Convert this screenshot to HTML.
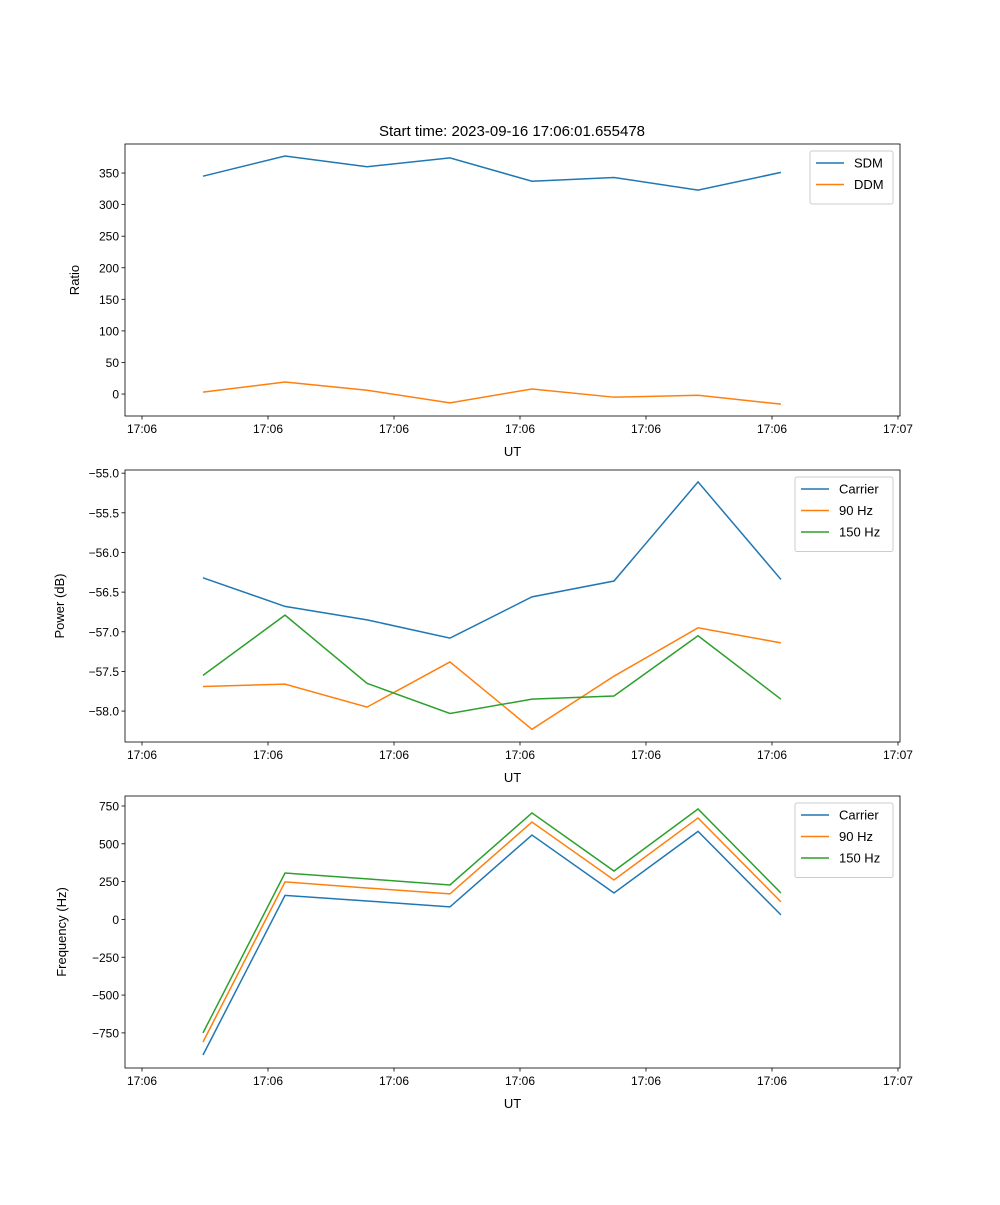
<!DOCTYPE html>
<html><head><meta charset="utf-8"><style>
body{margin:0;background:#fff}
svg{font-family:"Liberation Sans","DejaVu Sans",sans-serif}
</style></head><body>
<svg id="fig" width="1000" height="1200" xmlns="http://www.w3.org/2000/svg">
<rect width="1000" height="1200" fill="#fff"/>
<text x="512" y="136" font-size="15" text-anchor="middle">Start time: 2023-09-16 17:06:01.655478</text>
</svg>
<script>
const times = [4.84, 11.35, 17.86, 24.44, 30.95, 37.46, 44.13, 50.71];
const xTicks = [0, 10, 20, 30, 40, 50, 60];
const xTickLabels = ["17:06","17:06","17:06","17:06","17:06","17:06","17:07"];
const sdm = [345, 377, 360, 374, 337, 343, 323, 351];
const ddm = [3, 19, 6, -14, 8, -5, -2, -16];
const ratioTicks = [0, 50, 100, 150, 200, 250, 300, 350];
const pwrCarrier = [-56.32, -56.68, -56.85, -57.08, -56.56, -56.36, -55.11, -56.34];
const pwr90 = [-57.69, -57.66, -57.95, -57.38, -58.23, -57.56, -56.95, -57.14];
const pwr150 = [-57.55, -56.79, -57.65, -58.03, -57.85, -57.81, -57.05, -57.85];
const pwrTicks = [-58.0, -57.5, -57.0, -56.5, -56.0, -55.5, -55.0];
const frqCarrier = [-896, 159, 122, 83, 558, 175, 582, 30];
const frq90 = [-810, 248, 208, 169, 644, 261, 671, 116];
const frq150 = [-750, 307, 268, 228, 704, 320, 730, 175];
const frqTicks = [-750, -500, -250, 0, 250, 500, 750];

const NS = "http://www.w3.org/2000/svg";
const svg = document.getElementById('fig');
function mk(tag, attrs, parent) {
  const e = document.createElementNS(NS, tag);
  for (const k in attrs) e.setAttribute(k, attrs[k]);
  (parent || svg).appendChild(e);
  return e;
}
const L = 125, R = 900, X0 = -1.35, X1 = 60.16;
const xs = t => L + (t - X0) / (X1 - X0) * (R - L);

function panel(name, top, bot, y0, y1, ticks, fmt, ylabel, lx, series, legend) {
  const g = mk('g', {});
  
  
  const ys = v => bot - (v - y0) / (y1 - y0) * (bot - top);
  series.forEach(s => {
    const p = mk('polyline', {points: s.vals.map((v, i) => xs(times[i]) + ',' + ys(v)).join(' '), fill: 'none', stroke: s.color, 'stroke-width': 1.5}, g);
    
    
  });
  const fr = mk('rect', {x: L, y: top, width: R - L, height: bot - top, fill: 'none', stroke: '#000', 'stroke-width': 0.8}, g);
  
  
  xTicks.forEach((t, i) => {
    const x = xs(t);
    mk('line', {x1: x, x2: x, y1: bot, y2: bot + 3.5, stroke: '#000', 'stroke-width': 0.8}, g);
    const tx = mk('text', {x: x, y: bot + 17, 'font-size': 12, 'text-anchor': 'middle'}, g);
    tx.textContent = xTickLabels[i];
    
    
  });
  const xl = mk('text', {x: (L + R) / 2, y: bot + 40, 'font-size': 13, 'text-anchor': 'middle'}, g);
  xl.textContent = 'UT';
  
  
  ticks.forEach(v => {
    const y = ys(v);
    mk('line', {x1: L - 3.5, x2: L, y1: y, y2: y, stroke: '#000', 'stroke-width': 0.8}, g);
    const tx = mk('text', {x: L - 6, y: y + 4.5, 'font-size': 12, 'text-anchor': 'end'}, g);
    tx.textContent = fmt(v);
    
    
  });
  const yl = mk('text', {x: lx, y: (top + bot) / 2, 'font-size': 13, 'text-anchor': 'middle', transform: 'rotate(-90 ' + lx + ' ' + (top + bot) / 2 + ')'}, g);
  yl.textContent = ylabel;
  
  
  const lg = mk('g', {}, g);
  
  
  mk('rect', {x: legend.x, y: top + 7, width: R - 7 - legend.x, height: 10 + series.length * 21.5, fill: '#fff', stroke: '#ccc', rx: 2}, lg);
  series.forEach((s, i) => {
    const y = top + 7 + 12 + i * 21.5;
    mk('line', {x1: legend.x + 6, x2: legend.x + 34, y1: y, y2: y, stroke: s.color, 'stroke-width': 1.5}, lg);
    const tx = mk('text', {x: legend.x + 44, y: y + 4.5, 'font-size': 13}, lg);
    tx.textContent = s.label;
    
    
  });
}
const B = '#1f77b4', O = '#ff7f0e', G = '#2ca02c';
panel('ratio-panel', 144, 416, -34.8, 396, ratioTicks, v => String(v), 'Ratio', 79,
  [{key: 'sdm', label: 'SDM', vals: sdm, color: B}, {key: 'ddm', label: 'DDM', vals: ddm, color: O}], {x: 810});
panel('power-panel', 470, 742, -58.39, -54.96, pwrTicks, v => v.toFixed(1).replace('-', '\u2212'), 'Power (dB)', 64,
  [{key: 'carrier', label: 'Carrier', vals: pwrCarrier, color: B}, {key: 'hz90', label: '90 Hz', vals: pwr90, color: O}, {key: 'hz150', label: '150 Hz', vals: pwr150, color: G}], {x: 795});
panel('frequency-panel', 796, 1068, -982, 816, frqTicks, v => String(v).replace('-', '\u2212'), 'Frequency (Hz)', 66,
  [{key: 'carrier', label: 'Carrier', vals: frqCarrier, color: B}, {key: 'hz90', label: '90 Hz', vals: frq90, color: O}, {key: 'hz150', label: '150 Hz', vals: frq150, color: G}], {x: 795});
</script>
</body></html>
